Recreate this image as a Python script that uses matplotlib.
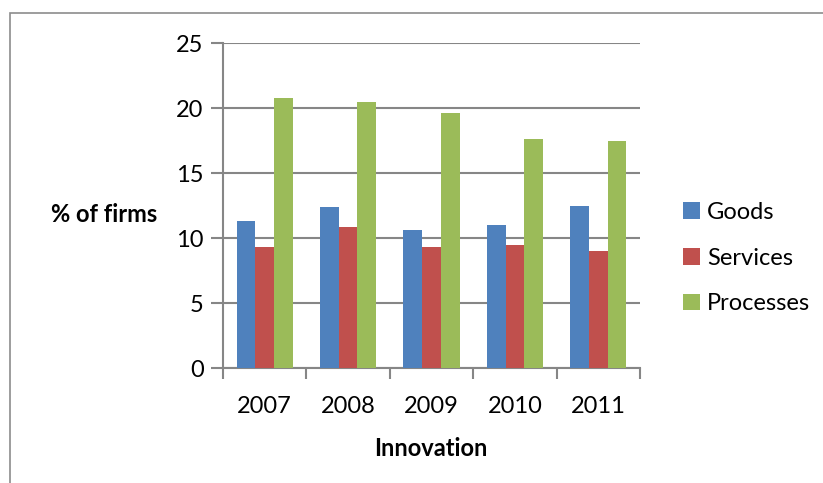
import matplotlib
matplotlib.use('Agg')
from matplotlib import pyplot as plt
from matplotlib.patches import Rectangle
import numpy as np

years = ['2007', '2008', '2009', '2010', '2011']
goods = [11.3, 12.4, 10.6, 11.0, 12.5]
services = [9.3, 10.9, 9.3, 9.5, 9.0]
processes = [20.8, 20.5, 19.6, 17.6, 17.5]

series_names = ['Goods', 'Services', 'Processes']
series_colors = ['#4F81BD', '#C0504D', '#9BBB59']

plt.rcParams['font.family'] = ['Lato', 'DejaVu Sans']
grid_col = '#868686'

fig = plt.figure(figsize=(8.23, 4.83), dpi=100)
W, H = 823, 483
ax = fig.add_axes([223 / W, 1 - 368.3 / H, (640 - 223) / W, 325 / H])

x = np.arange(len(years))
bw = 0.225
for i, (vals, name, col) in enumerate(zip([goods, services, processes], series_names, series_colors)):
	ax.bar(x + (i - 1) * bw, vals, bw, color=col, label=name, zorder=3)

ax.set_xlim(-0.5, len(years) - 0.5)
ax.set_ylim(0, 25)
ax.set_yticks([0, 5, 10, 15, 20, 25])
ax.set_xticks(x)
ax.set_xticklabels(years)
ax.set_xticks(np.arange(len(years) + 1) - 0.5, minor=True)
ax.tick_params(axis='x', which='major', length=0, labelsize=17, pad=20)
ax.tick_params(axis='x', which='minor', length=8, width=1.5, color=grid_col, direction='out')
ax.tick_params(axis='y', length=9, width=1.5, color=grid_col, labelsize=17, pad=5)
ax.grid(axis='y', color=grid_col, linewidth=1.5, zorder=0)
for s in ['top', 'right']:
	ax.spines[s].set_visible(False)
for s in ['left', 'bottom']:
	ax.spines[s].set_color(grid_col)
	ax.spines[s].set_linewidth(1.5)

fig.text(104 / W, 1 - 215 / H, '% of firms', fontsize=17, fontweight='bold', ha='center', va='center')
fig.text(431 / W, 1 - 448 / H, 'Innovation', fontsize=17, fontweight='bold', ha='center', va='center')

leg = ax.legend(loc='center left', bbox_to_anchor=(662 / W, 1 - 258 / H), bbox_transform=fig.transFigure,
	frameon=False, fontsize=17, handlelength=0.7, handleheight=0.7, handletextpad=0.3, labelspacing=1.05)

fig.patches.append(Rectangle((10 / W, -0.1), 1.2, 1 - 13 / H + 0.1, transform=fig.transFigure,
	fill=False, edgecolor='#8c8c8c', linewidth=1.2))

fig.savefig('out.png', dpi=100)
